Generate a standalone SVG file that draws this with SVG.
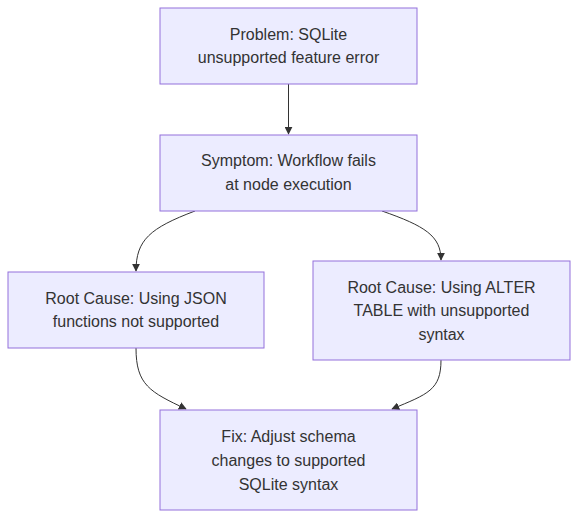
<svg xmlns="http://www.w3.org/2000/svg" width="586" height="526" viewBox="0 0 586 526">
<style>
.node rect{fill:#ECECFF;stroke:#9370DB;stroke-width:1px}
.node text{font-family:"Trebuchet MS","Liberation Sans",Verdana,sans-serif;font-size:16px;fill:#333333;text-anchor:middle}
.edge{fill:none;stroke:#333333;stroke-width:1px}
</style>
<defs>
<marker id="arrow" viewBox="0 0 10 10" refX="9" refY="5" markerWidth="8" markerHeight="8" markerUnits="userSpaceOnUse" orient="auto">
<path d="M0,0 L10,5 L0,10 z" fill="#333333"/>
</marker>
</defs>
<rect width="586" height="526" fill="#ffffff"/>
<g id="connectors">
<path class="edge" d="M288.5,84 L288.5,134" marker-end="url(#arrow)"/>
<path class="edge" d="M195,211 C150,228 136,240 136,271" marker-end="url(#arrow)"/>
<path class="edge" d="M382,211 C425,226 441,236 441,260" marker-end="url(#arrow)"/>
<path class="edge" d="M136,348 C136,385 150,392 186,409" marker-end="url(#arrow)"/>
<path class="edge" d="M441,360 C441,390 428,394 392,409" marker-end="url(#arrow)"/>
</g>
<g id="A" class="node">
<rect x="160" y="8" width="257" height="76"/>
<text x="288.5" y="40">Problem: SQLite</text>
<text x="288.5" y="63">unsupported feature error</text>
</g>
<g id="B" class="node">
<rect x="160" y="135" width="257" height="76"/>
<text x="288.5" y="166">Symptom: Workflow fails</text>
<text x="288.5" y="190">at node execution</text>
</g>
<g id="C" class="node">
<rect x="8" y="272" width="256" height="76"/>
<text x="136" y="304">Root Cause: Using JSON</text>
<text x="136" y="327">functions not supported</text>
</g>
<g id="D" class="node">
<rect x="313" y="261" width="257" height="99"/>
<text x="441.5" y="293">Root Cause: Using ALTER</text>
<text x="441.5" y="316">TABLE with unsupported</text>
<text x="441.5" y="340">syntax</text>
</g>
<g id="E" class="node">
<rect x="160" y="410" width="257" height="100"/>
<text x="288.5" y="442">Fix: Adjust schema</text>
<text x="288.5" y="466">changes to supported</text>
<text x="288.5" y="490">SQLite syntax</text>
</g>
</svg>
